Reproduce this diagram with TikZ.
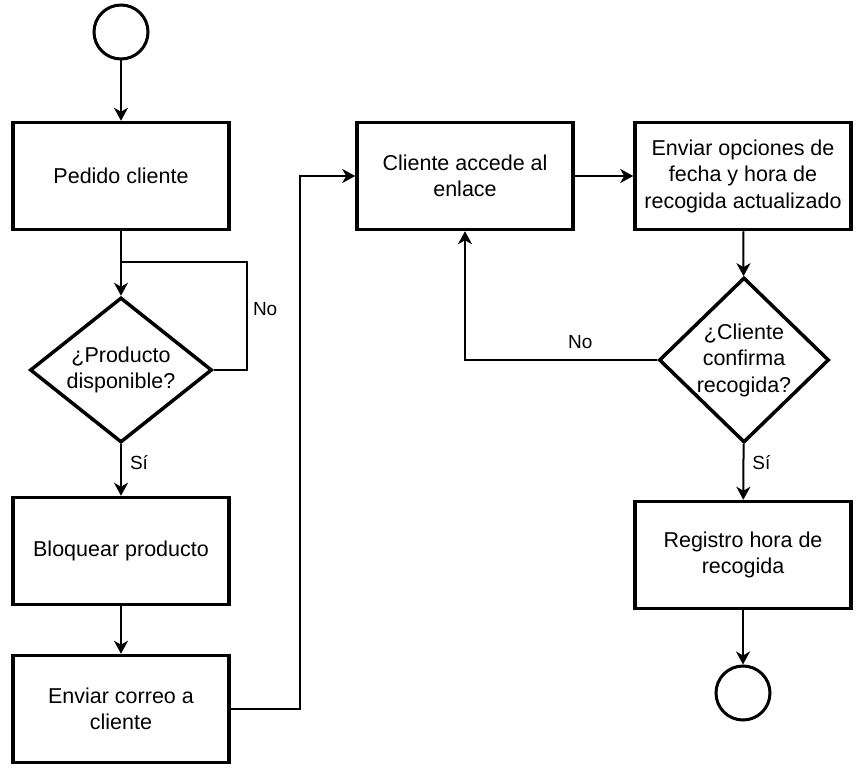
\documentclass[tikz,border=0pt]{standalone}
\usepackage{fontspec}
\setmainfont{Liberation Sans}
\usetikzlibrary{shapes.geometric,arrows.meta}

\begin{document}
\begin{tikzpicture}[x=1pt, y=-1pt,
        every node/.style={font=\fontsize{21.5}{26.5}\selectfont},
        terminal/.style={circle, draw, line width=3pt, minimum size=54pt, inner sep=0pt},
        process/.style={rectangle, draw, line width=3.5pt, minimum width=216pt, minimum height=107pt, align=center},
        decision/.style={diamond, draw, line width=3.5pt, inner sep=-4pt, align=center},
        flow/.style={line width=2pt, -{Stealth[length=13pt, width=14pt, inset=4pt]}},
        plain/.style={line width=2pt},
        answer/.style={font=\fontsize{19}{22}\selectfont, inner sep=2pt}]
        \useasboundingbox (0, 0) rectangle (868, 776);

        % linke Spalte
        \node[terminal] (start)     at (121,  32) {};
        \node[process]  (pedido)    at (121, 176) {Pedido cliente};
        \node[decision, minimum width=182pt, minimum height=145pt] (producto) at (121, 370) {¿Producto\\disponible?};
        \node[process]  (bloquear)  at (121, 551) {Bloquear producto};
        \node[process]  (correo)    at (121, 709) {Enviar correo a\\cliente};

        % mittlere und rechte Spalte
        \node[process]  (accede)    at (465, 176) {Cliente accede al\\enlace};
        \node[process]  (opciones)  at (743, 176) {Enviar opciones de\\fecha y hora de\\recogida actualizado};
        \node[decision, minimum width=170pt, minimum height=165pt] (confirma) at (744, 360) {¿Cliente\\confirma\\recogida?};
        \node[process]  (registro)  at (743, 555) {Registro hora de\\recogida};
        \node[terminal] (fin)       at (743, 693) {};

        \coordinate (loopA) at (247, 262);
        \coordinate (loopB) at (121, 262);
        \coordinate (via)   at (300, 440);

        \draw[flow]  (start) -- (pedido);
        \draw[flow]  (pedido) -- (producto);
        \draw[plain] (producto.east) -| node[answer, pos=.78, right=3pt] {No} (loopA) -- (loopB);
        \draw[flow]  (producto) -- node[answer, pos=.35, right=6pt] {Sí} (bloquear);
        \draw[flow]  (bloquear) -- (correo);
        \draw[flow]  (correo.east) -| (via) |- (accede.west);
        \draw[flow]  (accede) -- (opciones);
        \draw[flow]  (opciones) -- (confirma);
        \draw[flow]  (confirma.west) -| node[answer, pos=.2, above=8pt] {No} (accede.south);
        \draw[flow]  (confirma) -- node[answer, pos=.33, right=6pt] {Sí} (registro);
        \draw[flow]  (registro) -- (fin);
    \end{tikzpicture}
\end{document}
